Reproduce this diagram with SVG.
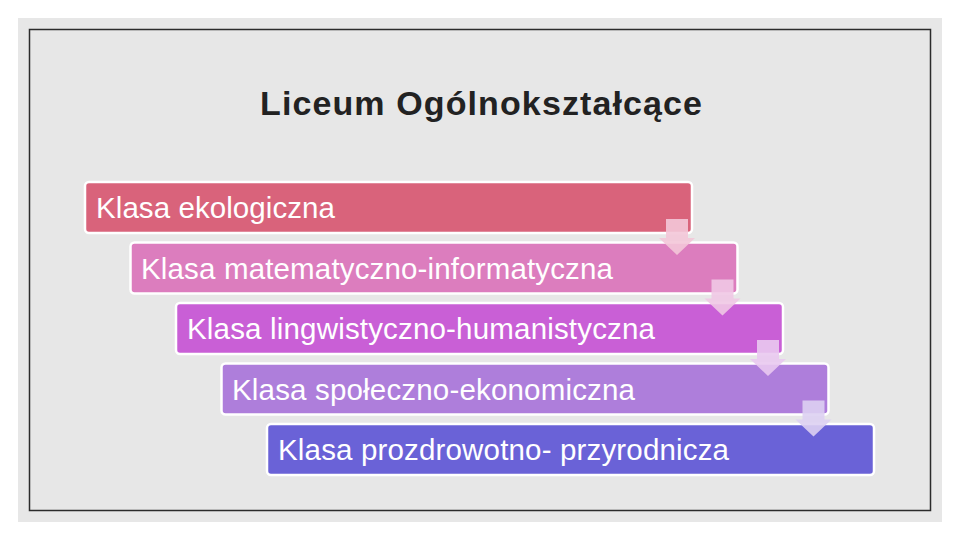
<svg xmlns="http://www.w3.org/2000/svg" width="960" height="540" viewBox="0 0 960 540">
<style>
.box{stroke:#ffffff;stroke-width:2.5}
.lbl{font-family:"Liberation Sans",Arial,sans-serif;font-size:29.5px;fill:#ffffff}
.arrow{stroke:none}
</style>
<rect x="0" y="0" width="960" height="540" fill="#ffffff"/>
<rect x="18" y="18" width="924" height="504" fill="#e7e7e7"/>
<rect x="29.5" y="29.5" width="901" height="481" fill="none" stroke="#2b2b2b" stroke-width="1.5"/>
<text x="260" y="115" textLength="442" lengthAdjust="spacing" font-family="'Liberation Sans',Arial,sans-serif" font-size="34" font-weight="bold" fill="#222222">Liceum Ogólnokształcące</text>
<g id="node1"><rect class="box" x="85" y="182" width="607" height="51" rx="4" fill="#d9637b"/><text class="lbl" x="96" y="218" textLength="239" lengthAdjust="spacing">Klasa ekologiczna</text></g>
<g id="node2"><rect class="box" x="130.5" y="242.5" width="607" height="51" rx="4" fill="#dc7dbe"/><text class="lbl" x="141" y="278.5" textLength="472" lengthAdjust="spacing">Klasa matematyczno-informatyczna</text></g>
<g id="node3"><rect class="box" x="176" y="303" width="607" height="51" rx="4" fill="#c95fd6"/><text class="lbl" x="187" y="339" textLength="468" lengthAdjust="spacing">Klasa lingwistyczno-humanistyczna</text></g>
<g id="node4"><rect class="box" x="221.5" y="363.5" width="607" height="51" rx="4" fill="#ae7edb"/><text class="lbl" x="232" y="399.5" textLength="403" lengthAdjust="spacing">Klasa społeczno-ekonomiczna</text></g>
<g id="node5"><rect class="box" x="267" y="424" width="607" height="51" rx="4" fill="#6a62d7"/><text class="lbl" x="278" y="460" textLength="451" lengthAdjust="spacing">Klasa prozdrowotno- przyrodnicza</text></g>
<g id="connectors">
<path class="arrow" d="M666,219 H688 V238 H695 L677,255 L659,238 H666 Z" fill="#f3c6d8" fill-opacity="0.9"/>
<path class="arrow" d="M711.5,279.5 H733.5 V298.5 H740.5 L722.5,315.5 L704.5,298.5 H711.5 Z" fill="#f0c8e4" fill-opacity="0.9"/>
<path class="arrow" d="M757,340 H779 V359 H786 L768,376 L750,359 H757 Z" fill="#e9c9f0" fill-opacity="0.9"/>
<path class="arrow" d="M802.5,400.5 H824.5 V419.5 H831.5 L813.5,436.5 L795.5,419.5 H802.5 Z" fill="#ddd0f2" fill-opacity="0.9"/>
</g>
</svg>
